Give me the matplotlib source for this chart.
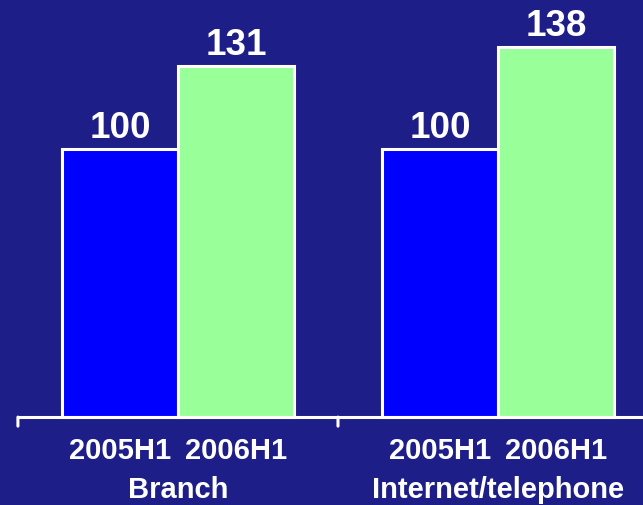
import matplotlib.pyplot as plt
import numpy as np

plt.rcParams['font.family'] = ['Liberation Sans', 'DejaVu Sans']

channels = ["Branch", "Internet/telephone"]
periods = ["2005H1", "2006H1"]
values_2005 = [100, 100]
values_2006 = [131, 138]

bg = '#1e1e88'
blue = '#0000ff'
green = '#99ff99'

fig = plt.figure(figsize=(6.43, 5.06), dpi=100, facecolor=bg)
ax = fig.add_axes([0, 0, 1, 1], facecolor=bg)

x = np.arange(len(channels))
w = 0.3625

b1 = ax.bar(x - w / 2, values_2005, w, color=blue, edgecolor='white', linewidth=2.2, zorder=2)
b2 = ax.bar(x + w / 2, values_2006, w, color=green, edgecolor='white', linewidth=2.2, zorder=2)

# value labels above bars
for bars, vals in [(b1, values_2005), (b2, values_2006)]:
    for rect, v in zip(bars, vals):
        ax.annotate(str(v), (rect.get_x() + rect.get_width() / 2, v),
                    xytext=(0, 8.6), textcoords='offset points',
                    ha='center', va='baseline', color='white',
                    fontsize=26.5, fontweight='bold')

# period labels under each bar, channel label under each group
for i, name in enumerate(channels):
    for j, p in enumerate(periods):
        xp = i + (j - 0.5) * w
        ax.annotate(p, (xp, 0), xytext=(0, -29.5), textcoords='offset points',
                    ha='center', va='baseline', color='white',
                    fontsize=21, fontweight='bold')
    ax.annotate(name, (i, 0), xytext=(0, -57.6), textcoords='offset points',
                ha='center', va='baseline', color='white',
                fontsize=21, fontweight='bold')

# category axis with group separators
ax.plot([-0.5, 1.5], [0, 0], color='white', lw=2.2, zorder=3, solid_capstyle='butt')
for t in [-0.5, 0.5, 1.5]:
    ax.annotate('', (t, 0), xytext=(0, -6.5), textcoords='offset points',
                arrowprops=dict(arrowstyle='-', color='white', lw=2.2,
                                shrinkA=0, shrinkB=0))

ax.set_xlim(-0.556, 1.453)
ax.set_ylim(-32.8, 156.0)
ax.axis('off')

fig.savefig('out.png', dpi=100, facecolor=bg)
